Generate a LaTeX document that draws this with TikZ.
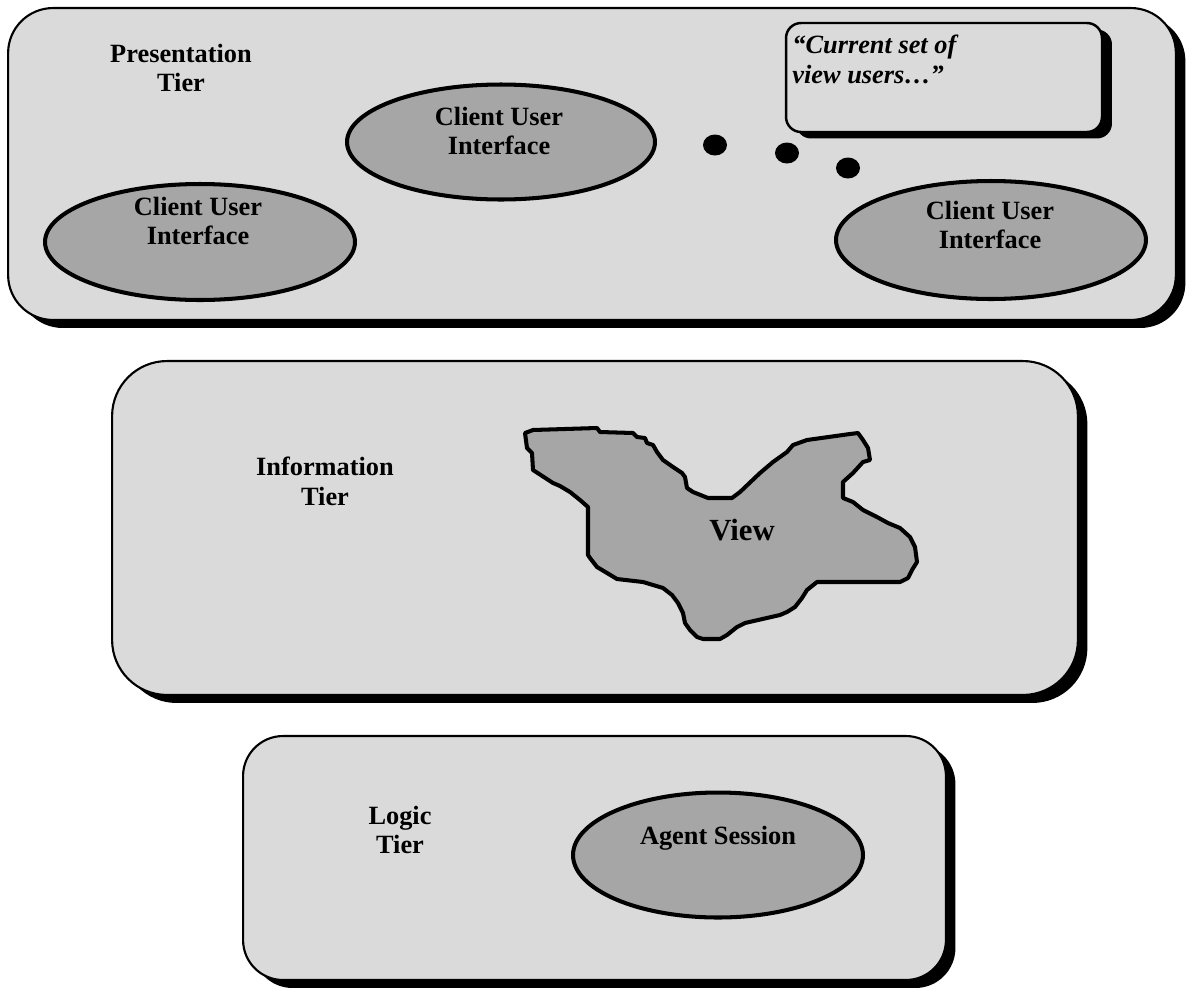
\documentclass[tikz,border=0pt]{standalone}
\usepackage{fontspec}
\setmainfont{Liberation Serif}
\usepackage{xcolor}
\usetikzlibrary{shapes.geometric, shadows, positioning}

\definecolor{tierfill}{gray}{0.855}
\definecolor{partfill}{gray}{0.65}

\begin{document}
\begin{tikzpicture}[
    x=0.02cm, y=-0.02cm,
    font=\fontsize{15}{17}\selectfont\bfseries,
    tier/.style={
        draw,
        line width=1.2pt,
        fill=tierfill,
        rectangle,
        inner sep=0pt,
        drop shadow={shadow xshift=0.19cm, shadow yshift=-0.16cm, fill=black, opacity=1}
    },
    part/.style={
        draw,
        ellipse,
        line width=2.3pt,
        fill=partfill,
        inner sep=0pt
    },
    note/.style={
        draw,
        line width=1.4pt,
        rounded corners=0.3cm,
        fill=tierfill,
        inner sep=0pt,
        minimum width=6.32cm,
        minimum height=2.18cm,
        drop shadow={shadow xshift=0.2cm, shadow yshift=-0.13cm, fill=black, opacity=1}
    },
    dot/.style={
        ellipse,
        fill=black,
        inner sep=0pt,
        minimum width=0.48cm,
        minimum height=0.42cm
    },
    lbl/.style={align=center, inner sep=0pt}
]

\useasboundingbox (0,0) rectangle (1187,991);

\node[tier, rounded corners=0.9cm, minimum width=23.36cm, minimum height=6.24cm] (pres) at (592,164) {};
\node[tier, rounded corners=1.1cm, minimum width=19.32cm, minimum height=6.68cm] (info) at (595,528) {};
\node[tier, rounded corners=0.8cm, minimum width=14.06cm, minimum height=4.88cm] (logic) at (594.5,858) {};

\node[lbl] (presname) at (181,68) {Presentation\\Tier};
\node[lbl] (infoname) at (325,481) {Information\\Tier};
\node[lbl] (logicname) at (400,830) {Logic\\Tier};

\node[note] (users) at (944,77.5) {};
\node[lbl, align=left, anchor=north west, font=\fontsize{15}{17}\selectfont\bfseries\itshape] (userstxt) at (792,35)
{“Current set of\\view users…”};

\node[part, minimum width=6.2cm, minimum height=2.32cm] (cuiL) at (200,242) {};
\node[part, minimum width=6.16cm, minimum height=2.3cm] (cuiM) at (501,142) {};
\node[part, minimum width=6.2cm, minimum height=2.36cm] (cuiR) at (991,240) {};
\node[lbl] (cuiLtxt) at (198,221) {Client User\\Interface};
\node[lbl] (cuiMtxt) at (499,131) {Client User\\Interface};
\node[lbl] (cuiRtxt) at (990,225) {Client User\\Interface};

\node[dot] (dot1) at (715,145) {};
\node[dot] (dot2) at (787,153) {};
\node[dot] (dot3) at (848,168) {};

\draw[line width=2.3pt, line join=round, fill=partfill]
  (525,433) -- (533,430) -- (597,428) -- (600,432) -- (633,433) -- (637,437)
  -- (645,438) -- (647,443) -- (653,445) -- (657,452) -- (663,460) -- (673,467)
  -- (682,473) -- (685,477) -- (687,488) -- (693,492) -- (708,498) -- (732,498)
  -- (740,492) -- (760,473) -- (773,462) -- (787,452) -- (793,445) -- (807,440)
  -- (850,434) -- (858,433) -- (863,440) -- (868,448) -- (870,460) -- (863,462)
  -- (853,473) -- (843,482) -- (843,498) -- (853,502) -- (863,510) -- (877,517)
  -- (888,523) -- (900,528) -- (910,537) -- (915,547) -- (917,562) -- (912,570)
  -- (908,578) -- (900,582) -- (817,582) -- (807,590) -- (802,598) -- (795,607)
  -- (787,612) -- (780,615) -- (745,623) -- (737,627) -- (727,635) -- (720,639)
  -- (703,639) -- (697,637) -- (690,630) -- (685,623) -- (683,613) -- (678,603)
  -- (672,595) -- (663,588) -- (643,582) -- (617,579) -- (607,573) -- (597,567)
  -- (590,558) -- (588,555) -- (588,507) -- (580,500) -- (570,492) -- (560,486)
  -- (553,483) -- (533,470) -- (532,453) -- (527,448) -- cycle;
\node[lbl, font=\fontsize{17.5}{20}\selectfont\bfseries] (view) at (742,530) {View};

\node[part, minimum width=5.8cm, minimum height=2.5cm] (agent) at (718,855) {};
\node[lbl] (agenttxt) at (718,838) {Agent Session};

\end{tikzpicture}
\end{document}
